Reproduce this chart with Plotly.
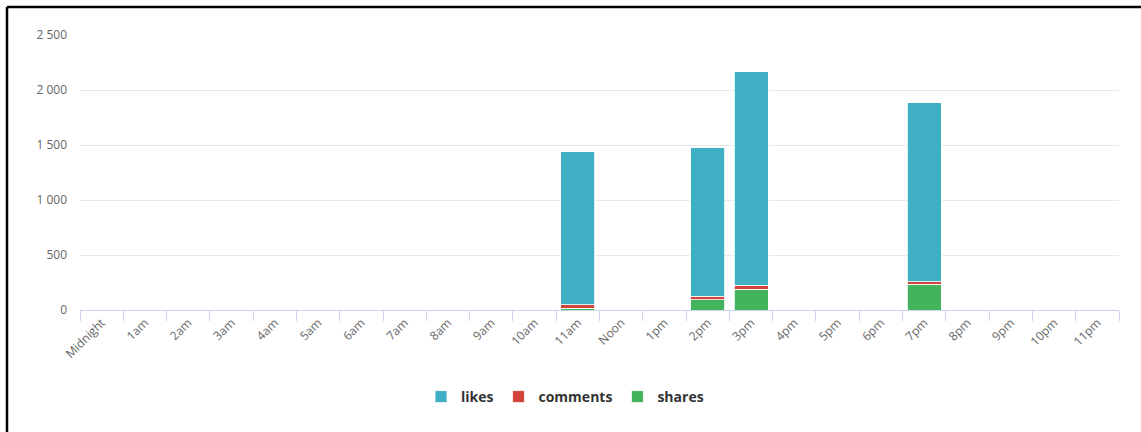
import plotly.graph_objects as go

hours = ["Midnight", "1am", "2am", "3am", "4am", "5am", "6am", "7am", "8am", "9am", "10am", "11am",
         "Noon", "1pm", "2pm", "3pm", "4pm", "5pm", "6pm", "7pm", "8pm", "9pm", "10pm", "11pm"]

likes    = [0]*11 + [1394, 0, 0, 1348, 1940, 0, 0, 0, 1623, 0, 0, 0, 0]
comments = [0]*11 + [28, 0, 0, 30, 36, 0, 0, 0, 25, 0, 0, 0, 0]
shares   = [0]*11 + [18, 0, 0, 95, 188, 0, 0, 0, 234, 0, 0, 0, 0]

y_ticks = [0, 500, 1000, 1500, 2000, 2500]
y_tick_labels = ["0", "500", "1 000", "1 500", "2 000", "2 500"]

colors = {"likes": "#3fafc4", "comments": "#d2443a", "shares": "#44b35e"}

fig = go.Figure()
for name, vals, rank in [("shares", shares, 3), ("comments", comments, 2), ("likes", likes, 1)]:
    fig.add_trace(go.Bar(
        x=hours, y=vals, name=name, legendrank=rank,
        marker=dict(color=colors[name], line=dict(color="white", width=0.8)),
    ))

L, R, T, B = 80, 22, 35, 122
W, H = 1141, 432
pw = W - L - R
ph = H - T - B
bx = (7 - L) / pw
by = 1 + (T - 7) / ph

fig.update_layout(
    width=W, height=H,
    margin=dict(l=L, r=R, t=T, b=B),
    barmode="stack",
    bargap=0.215,
    plot_bgcolor="white",
    paper_bgcolor="white",
    font=dict(family="Open Sans, DejaVu Sans, sans-serif", color="#666666", size=11),
    showlegend=True,
    legend=dict(
        orientation="h", x=(565 - L) / pw, xanchor="center",
        y=(310 - 397) / ph, yanchor="middle",
        traceorder="normal",
        font=dict(size=14, color="#333333", family="Open Sans, DejaVu Sans, sans-serif", weight="bold"),
        itemwidth=30,
    ),
    xaxis=dict(
        type="category",
        tickangle=-45,
        ticks="outside", tickson="boundaries", ticklen=10, tickcolor="#ccd6eb",
        showline=True, linecolor="#ccd6eb", linewidth=1,
        showgrid=False,
        tickfont=dict(size=12, color="#666666"),
        range=[-0.5, 23.5],
    ),
    yaxis=dict(
        range=[0, 2500],
        tickvals=y_ticks, ticktext=y_tick_labels,
        showgrid=True, gridcolor="#e9e9e9", gridwidth=1,
        zeroline=False,
        showline=False,
        ticks="",
        ticklabelstandoff=12,
        tickfont=dict(size=12, color="#666666"),
    ),
    shapes=[
        dict(type="line", xref="paper", yref="paper", x0=bx, x1=bx, y0=by, y1=-0.6,
             line=dict(color="black", width=2.5)),
        dict(type="line", xref="paper", yref="paper", x0=bx, x1=1.2, y0=by, y1=by,
             line=dict(color="black", width=2.5)),
    ],
)

fig.write_html("out.html", config={"displayModeBar": False},
               post_script="document.body.style.margin='0';document.body.style.overflow='hidden';")
